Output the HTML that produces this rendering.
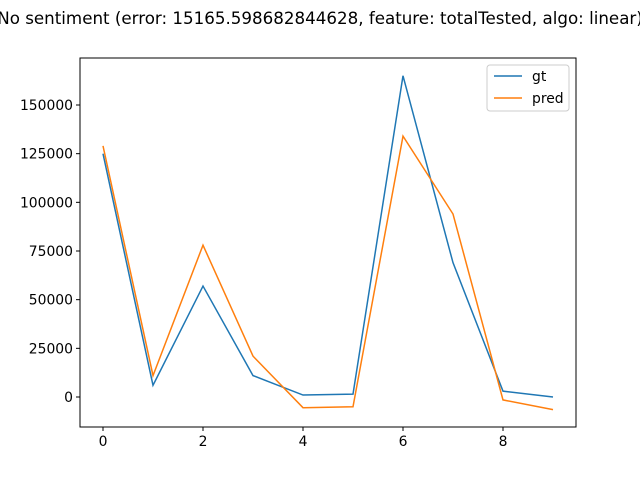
<!DOCTYPE html>
<html><head><meta charset="utf-8"><style>body{margin:0;background:#fff}svg{display:block;font-family:"DejaVu Sans","Liberation Sans",sans-serif}</style></head>
<body>
<svg id="c" width="640" height="480">
<text x="320" y="24" font-size="16.7" text-anchor="middle">No sentiment (error: 15165.598682844628, feature: totalTested, algo: linear)</text>
<g id="plot"></g>
</svg>
<script>
const xs = [0,1,2,3,4,5,6,7,8,9];
const gt = [125000,6000,57000,11000,1000,1500,165000,69000,3000,0];
const pred = [129000,11000,78000,21000,-5500,-5000,134000,94000,-1500,-6500];
const xTicks = [0,2,4,6,8];
const yTicks = [0,25000,50000,75000,100000,125000,150000];
const L=80,R=576,T=58,B=427;
const X=v=>103+v*50;
const Y=v=>397-v*292/150000;
const NS="http://www.w3.org/2000/svg";
const g=document.getElementById('plot');
function el(t,a){const e=document.createElementNS(NS,t);for(const k in a)e.setAttribute(k,a[k]);g.appendChild(e);return e;}
xTicks.forEach(v=>{
 const t=el('line',{x1:X(v),x2:X(v),y1:B,y2:B+4,stroke:'#000'});
 
 
 const l=el('text',{x:X(v),y:B+19,'font-size':13.9,'text-anchor':'middle'});l.textContent=v;
 
 
});
yTicks.forEach(v=>{
 const t=el('line',{x1:L-4,x2:L,y1:Y(v),y2:Y(v),stroke:'#000'});
 
 
 const l=el('text',{x:L-7,y:Y(v)+5,'font-size':13.9,'text-anchor':'end'});l.textContent=v;
 
 
});
function line(d,c,n){const p=el('polyline',{points:xs.map((x,i)=>X(x)+','+Y(d[i])).join(' '),fill:'none',stroke:c,'stroke-width':1.5});
 
 }
line(gt,'#1f77b4','gt-line');
line(pred,'#ff7f0e','pred-line');
const fr=el('rect',{x:L,y:T,width:R-L,height:B-T,fill:'none',stroke:'#000','stroke-width':1});


const lg=el('rect',{x:487,y:65,width:82,height:46,fill:'#fff',stroke:'#ccc',rx:3});


[['gt','#1f77b4',76],['pred','#ff7f0e',98]].forEach(([n,c,y])=>{
 const s=el('line',{x1:494,x2:522,y1:y,y2:y,stroke:c,'stroke-width':1.5});
 
 
 const t=el('text',{x:532,y:y+5,'font-size':13.9});t.textContent=n;
 
 
});
</script>
</body></html>
